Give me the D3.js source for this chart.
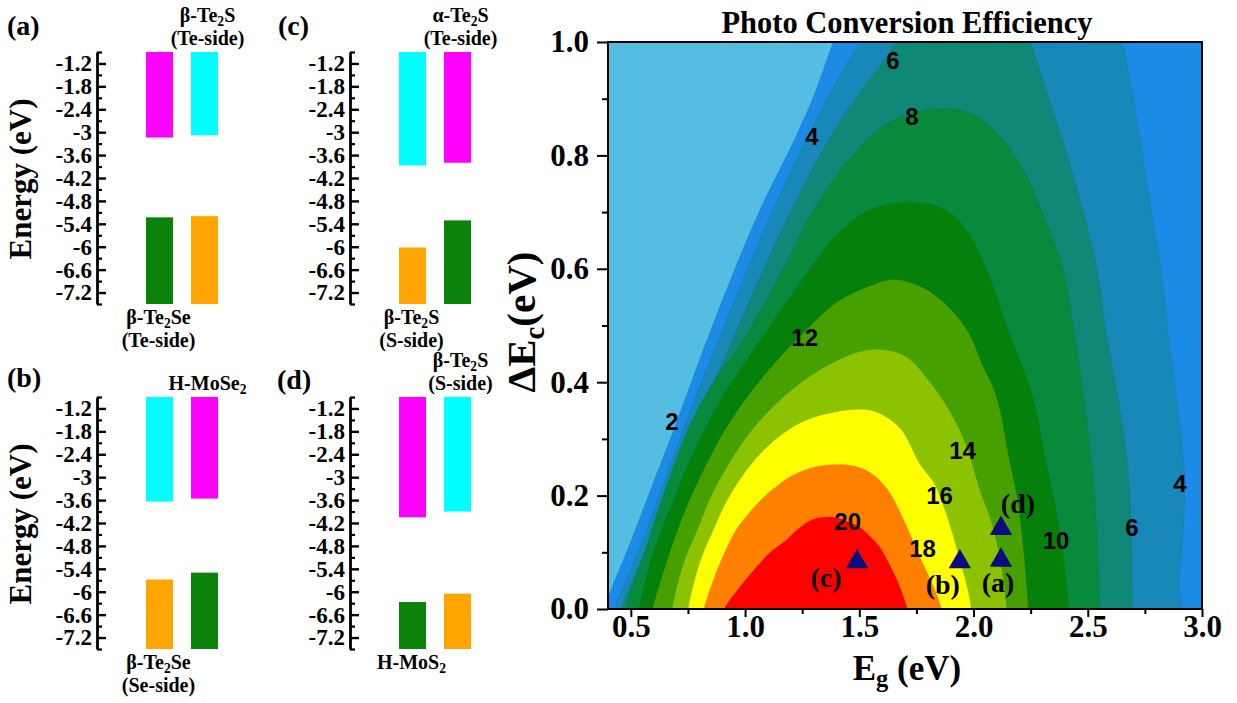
<!DOCTYPE html>
<html>
<head>
<meta charset="utf-8">
<script src="https://d3js.org/d3.v7.min.js"></script>
<style>
  body { margin: 0; background: #fff; }
  text { font-family: "Liberation Serif", "Times New Roman", serif; font-weight: bold; fill: #000; }
  .sans text, text.sans { font-family: "Liberation Sans", Arial, sans-serif; }
  .axis path, .axis line { stroke: #000; }
</style>
</head>
<body>
<svg id="fig" width="1237" height="703"></svg>
<script>
// ---------- band alignment panels ----------
const panelNames = ["(a)", "(b)", "(c)", "(d)"];
const cbmLeft  = [-3.14, -3.64, -3.87, -4.05];
const cbmRight = [-3.08, -3.56, -3.80, -3.90];
const vbmLeft  = [-5.23, -5.68, -6.02, -6.27];
const vbmRight = [-5.20, -5.50, -5.31, -6.05];
const cbColors = [["#ff00ff", "#00ffff"], ["#00ffff", "#ff00ff"], ["#00ffff", "#ff00ff"], ["#ff00ff", "#00ffff"]];
const vbColors = [["#0b830b", "#ffa500"], ["#ffa500", "#0b830b"], ["#ffa500", "#0b830b"], ["#0b830b", "#ffa500"]];
const topLabels = [["β-Te_2S", "(Te-side)"], ["H-MoSe_2"], ["α-Te_2S", "(Te-side)"], ["β-Te_2S", "(S-side)"]];
const bottomLabels = [["β-Te_2Se", "(Te-side)"], ["β-Te_2Se", "(Se-side)"], ["β-Te_2S", "(S-side)"], ["H-MoS_2"]];
const energyDomain = [-7.5, -0.9];
const energyTicks = [-1.2, -1.8, -2.4, -3, -3.6, -4.2, -4.8, -5.4, -6, -6.6, -7.2];
const energyMinor = [-0.9, -1.5, -2.1, -2.7, -3.3, -3.9, -4.5, -5.1, -5.7, -6.3, -6.9, -7.5];

// ---------- PCE contour map ----------
const egDomain = [0.4, 3.0];
const decDomain = [0, 1];
const egTicks = [0.5, 1.0, 1.5, 2.0, 2.5, 3.0];
const egMinor = [0.75, 1.25, 1.75, 2.25, 2.75];
const decTicks = [0, 0.2, 0.4, 0.6, 0.8, 1.0];
const decMinor = [0.1, 0.3, 0.5, 0.7, 0.9];
const levels = [2, 4, 6, 8, 10, 12, 14, 16, 18, 20];
const baseColor = "#54bde1";
const bandColors = ["#1c8be6", "#1888b8", "#108878", "#088a3c", "#05800a", "#45a000", "#8cc300", "#ffff00", "#ff8000", "#ff0000"];

// contour lines [Eg, dEc]
const c2Left = [[0.37,-0.02],[0.4,0.02],[0.5,0.12],[0.6,0.225],[0.7,0.33],[0.81,0.45],[0.93,0.575],[1.065,0.704],[1.218,0.83],[1.30,0.905],[1.385,1.0],[1.42,1.04]];
const c4Left = [[0.42,-0.02],[0.43,0],[0.55,0.12],[0.66,0.24],[0.76,0.35],[0.86,0.451],[0.99,0.58],[1.122,0.704],[1.27,0.83],[1.40,0.93],[1.503,1.0],[1.55,1.03]];
const c4Right = [[2.62,1.03],[2.65,1.0],[2.70,0.9],[2.74,0.8],[2.78,0.7],[2.82,0.6],[2.85,0.49],[2.88,0.4],[2.91,0.3],[2.925,0.22],[2.915,0.12],[2.90,0.05],[2.91,0],[2.912,-0.02]];
const c6Left = [[0.455,-0.02],[0.46,0],[0.58,0.12],[0.70,0.25],[0.81,0.35],[0.92,0.451],[1.06,0.58],[1.204,0.704],[1.37,0.83],[1.50,0.91],[1.62,0.975],[1.66,1.0],[1.70,1.03]];
const c6Right = [[2.23,1.03],[2.25,1.0],[2.33,0.9],[2.41,0.8],[2.48,0.7],[2.54,0.6],[2.58,0.49],[2.62,0.4],[2.66,0.3],[2.685,0.2],[2.69,0.14],[2.695,0],[2.695,-0.02]];
const c8 = [[0.47,-0.02],[0.476,0],[0.56,0.1],[0.64,0.198],[0.75,0.316],[0.86,0.40],[0.985,0.47],[1.168,0.6],[1.30,0.704],[1.45,0.79],[1.60,0.85],[1.75,0.877],[1.887,0.882],[2.0,0.872],[2.10,0.84],[2.21,0.78],[2.30,0.7],[2.39,0.6],[2.44,0.49],[2.49,0.35],[2.53,0.2],[2.555,0],[2.56,-0.02]];
const c10 = [[0.53,-0.02],[0.536,0],[0.585,0.08],[0.635,0.139],[0.694,0.198],[0.753,0.257],[0.823,0.316],[0.902,0.375],[1.0,0.434],[1.10,0.493],[1.286,0.6],[1.405,0.661],[1.55,0.705],[1.739,0.717],[1.87,0.705],[1.956,0.675],[2.055,0.6],[2.153,0.489],[2.258,0.375],[2.318,0.257],[2.377,0.139],[2.417,0],[2.42,-0.02]];
const c12 = [[0.59,-0.02],[0.595,0],[0.654,0.08],[0.704,0.139],[0.763,0.198],[0.833,0.257],[0.912,0.316],[1.01,0.375],[1.13,0.434],[1.25,0.485],[1.405,0.542],[1.56,0.572],[1.641,0.581],[1.72,0.576],[1.80,0.562],[1.897,0.53],[1.976,0.489],[2.04,0.43],[2.10,0.375],[2.16,0.257],[2.19,0.2],[2.22,0.1],[2.24,0],[2.242,-0.02]];
const c14 = [[0.675,-0.02],[0.68,0],[0.73,0.08],[0.79,0.139],[0.85,0.198],[0.93,0.257],[1.03,0.316],[1.17,0.375],[1.33,0.4225],[1.486,0.452],[1.585,0.458],[1.70,0.446],[1.80,0.405],[1.90,0.346],[1.97,0.287],[2.028,0.21],[2.08,0.152],[2.115,0.092],[2.135,0.04],[2.145,0],[2.147,-0.02]];
const c16 = [[0.745,-0.02],[0.75,0],[0.8,0.08],[0.86,0.139],[0.93,0.198],[1.03,0.257],[1.13,0.298],[1.25,0.33],[1.4,0.348],[1.526,0.352],[1.6,0.343],[1.684,0.316],[1.763,0.257],[1.83,0.22],[1.87,0.18],[1.91,0.13],[1.945,0.08],[1.975,0.034],[1.99,0],[1.992,-0.02]];
const c18 = [[0.815,-0.02],[0.82,0],[0.86,0.05],[0.9,0.09],[0.96,0.139],[1.03,0.175],[1.09,0.2],[1.2,0.234],[1.3,0.25],[1.4,0.255],[1.48,0.252],[1.55,0.24],[1.625,0.21],[1.70,0.152],[1.765,0.092],[1.83,0.034],[1.86,0],[1.865,-0.02]];
const c20 = [[0.905,-0.02],[0.91,0],[0.98,0.04],[1.05,0.074],[1.11,0.10],[1.17,0.118],[1.23,0.14],[1.29,0.157],[1.35,0.162],[1.41,0.16],[1.46,0.152],[1.50,0.145],[1.55,0.127],[1.59,0.109],[1.63,0.08],[1.665,0.051],[1.69,0.025],[1.71,0],[1.712,-0.02]];

// contour labels
const labelText = ["2", "4", "6", "8", "12", "14", "16", "18", "20", "10", "6", "4"];
const labelEg  = [0.680, 1.293, 1.647, 1.730, 1.261, 1.952, 1.851, 1.777, 1.449, 2.361, 2.693, 2.903];
const labelDec = [0.330, 0.833, 0.968, 0.868, 0.478, 0.279, 0.201, 0.106, 0.155, 0.120, 0.143, 0.222];

// heterostructure points
const markerNames = ["(a)", "(b)", "(c)", "(d)"];
const markerEg  = [2.12, 1.94, 1.49, 2.12];
const markerDec = [0.086, 0.083, 0.083, 0.142];

const svg = d3.select("#fig");
svg.append("rect").attr("width", 1237).attr("height", 703).attr("fill", "#fff");

// chemical formula helper: "Te_2S" -> subscript 2
function formula(sel, str) {
  const parts = str.split(/_(.)/);
  parts.forEach(function(p, i) {
    if (!p) return;
    if (i % 2 === 1) {
      sel.append("tspan").attr("font-size", "0.68em").attr("dy", "0.3em").text(p);
    } else {
      const t = sel.append("tspan").text(p);
      if (i > 0) t.attr("dy", "-0.2em");
    }
  });
}

// ---------- left panels ----------
const panelBox = [
  {ax: 97, top: 52, bottom: 304, lx: 7, ly: 35},
  {ax: 97, top: 397, bottom: 649, lx: 7, ly: 387},
  {ax: 350, top: 52, bottom: 304, lx: 278, ly: 35},
  {ax: 350, top: 397, bottom: 649, lx: 277, ly: 389}
];
const fmtE = d => String(+d.toFixed(1));

panelNames.forEach(function(name, i) {
  const b = panelBox[i];
  const ye = d3.scaleLinear().domain(energyDomain).range([b.bottom, b.top]);
  const xb = d3.scaleBand().domain([0, 1]).range([b.ax + 49, b.ax + 121]).paddingInner(0.4);
  const g = svg.append("g");

  // conduction band bars (from top of axis down to CBM)
  [cbmLeft[i], cbmRight[i]].forEach(function(v, k) {
    g.append("rect").attr("x", xb(k)).attr("width", xb.bandwidth())
      .attr("y", ye(energyDomain[1])).attr("height", ye(v) - ye(energyDomain[1]))
      .attr("fill", cbColors[i][k]);
  });
  // valence band bars (from VBM down to bottom of axis)
  [vbmLeft[i], vbmRight[i]].forEach(function(v, k) {
    g.append("rect").attr("x", xb(k)).attr("width", xb.bandwidth())
      .attr("y", ye(v)).attr("height", ye(energyDomain[0]) - ye(v))
      .attr("fill", vbColors[i][k]);
  });

  const ax = g.append("g").attr("class", "axis").attr("transform", "translate(" + b.ax + ",0)")
    .call(d3.axisLeft(ye).tickValues(energyTicks).tickSize(-9).tickSizeOuter(0).tickPadding(5).tickFormat(fmtE));
  ax.select(".domain").attr("stroke-width", 2.8);
  ax.selectAll(".tick line").attr("stroke-width", 2.4);
  ax.selectAll("text").attr("font-size", 23).attr("font-family", "Liberation Serif").attr("font-weight", "bold").attr("fill", "#000");
  const mn = g.append("g").attr("class", "axis").attr("transform", "translate(" + b.ax + ",0)")
    .call(d3.axisLeft(ye).tickValues(energyMinor).tickSize(-5).tickSizeOuter(0).tickFormat(""));
  mn.select(".domain").remove();
  mn.selectAll(".tick line").attr("stroke-width", 2.2);

  // panel tag
  g.append("text").attr("x", b.lx).attr("y", b.ly).attr("font-size", 28).text(name);

  // material labels
  const topX = xb(1) + xb.bandwidth() / 2 + 3;
  const tl = topLabels[i];
  tl.forEach(function(s, k) {
    const t = g.append("text").attr("x", topX).attr("y", b.top - 7 - (tl.length - 1 - k) * 23)
      .attr("text-anchor", "middle").attr("font-size", 20);
    formula(t, s);
  });
  const botX = xb(0) + xb.bandwidth() / 2 - 1;
  bottomLabels[i].forEach(function(s, k) {
    const t = g.append("text").attr("x", botX).attr("y", b.bottom + 20 + k * 23)
      .attr("text-anchor", "middle").attr("font-size", 20);
    formula(t, s);
  });

  // energy axis title for the left column
  if (b.ax < 200) {
    g.append("text").attr("transform", "translate(31," + ((b.top + b.bottom) / 2 + 1) + ") rotate(-90)")
      .attr("text-anchor", "middle").attr("font-size", 31).text("Energy (eV)");
  }
});

// ---------- contour map ----------
const x = d3.scaleLinear().domain(egDomain).range([608, 1202]);
const y = d3.scaleLinear().domain(decDomain).range([609, 42]);
const plot = svg.append("g");

plot.append("clipPath").attr("id", "clip").append("rect")
  .attr("x", x(egDomain[0])).attr("y", y(decDomain[1]))
  .attr("width", x(egDomain[1]) - x(egDomain[0])).attr("height", y(decDomain[0]) - y(decDomain[1]));

const body = plot.append("g").attr("clip-path", "url(#clip)");
body.append("rect").attr("x", x(egDomain[0])).attr("y", y(decDomain[1]))
  .attr("width", x(egDomain[1]) - x(egDomain[0])).attr("height", y(decDomain[0]) - y(decDomain[1]))
  .attr("fill", baseColor);

const line = d3.line().x(d => x(d[0])).y(d => y(d[1])).curve(d3.curveCatmullRom.alpha(0.5));
function joinBranches(branches) {
  return branches.map((br, k) => k === 0 ? line(br) : "L" + line(br).slice(1)).join("");
}
const pad = 0.1;
const corner = (a, b) => "L" + x(a) + "," + y(b);
const levelPaths = [
  line(c2Left) + corner(egDomain[1] + pad, decDomain[1] + pad) + corner(egDomain[1] + pad, decDomain[0] - pad) + corner(egDomain[0] - pad, decDomain[0] - pad) + "Z",
  joinBranches([c4Left, c4Right]) + "Z",
  joinBranches([c6Left, c6Right]) + "Z",
  line(c8) + "Z",
  line(c10) + "Z",
  line(c12) + "Z",
  line(c14) + "Z",
  line(c16) + "Z",
  line(c18) + "Z",
  line(c20) + "Z"
];
levels.forEach(function(lv, i) {
  body.append("path").attr("d", levelPaths[i]).attr("fill", bandColors[i])
    .attr("stroke", "rgba(0,0,0,0.1)").attr("stroke-width", 0.6);
});

// contour labels
body.selectAll(".clab").data(labelText).enter().append("text")
  .attr("class", "sans clab")
  .attr("x", (d, i) => x(labelEg[i])).attr("y", (d, i) => y(labelDec[i]))
  .attr("text-anchor", "middle").attr("dominant-baseline", "central")
  .attr("font-size", 24).text(d => d);

// markers
const markerOffsets = [[-3, 22], [-17, 23], [-31, 16], [17, -25]];
markerNames.forEach(function(name, i) {
  plot.append("path").attr("d", d3.symbol(d3.symbolTriangle, 215)())
    .attr("transform", "translate(" + x(markerEg[i]) + "," + y(markerDec[i]) + ")")
    .attr("fill", "#0c0c7e");
  plot.append("text").attr("x", x(markerEg[i]) + markerOffsets[i][0]).attr("y", y(markerDec[i]) + markerOffsets[i][1])
    .attr("text-anchor", "middle").attr("dominant-baseline", "central").attr("font-size", 28).text(name);
});

// frame
plot.append("rect").attr("x", x(egDomain[0])).attr("y", y(decDomain[1]))
  .attr("width", x(egDomain[1]) - x(egDomain[0])).attr("height", y(decDomain[0]) - y(decDomain[1]))
  .attr("fill", "none").attr("stroke", "#000").attr("stroke-width", 2);

// axes
function styleAxis(a, fs) {
  a.select(".domain").remove();
  a.selectAll(".tick line").attr("stroke-width", 2);
  a.selectAll("text").attr("font-family", "Liberation Sans").attr("font-weight", "bold").attr("font-size", fs).attr("fill", "#000");
}
const yAx = plot.append("g").attr("class", "axis").attr("transform", "translate(" + x(egDomain[0]) + ",0)")
  .call(d3.axisLeft(y).tickValues(decTicks).tickSize(11).tickPadding(8).tickFormat(d3.format(".1f")));
styleAxis(yAx, 31);
const yMin = plot.append("g").attr("class", "axis").attr("transform", "translate(" + x(egDomain[0]) + ",0)")
  .call(d3.axisLeft(y).tickValues(decMinor).tickSize(6).tickFormat(""));
styleAxis(yMin, 0);
const xAx = plot.append("g").attr("class", "axis").attr("transform", "translate(0," + y(decDomain[0]) + ")")
  .call(d3.axisBottom(x).tickValues(egTicks).tickSize(8).tickPadding(-2).tickFormat(d3.format(".1f")));
styleAxis(xAx, 31);
const xMin = plot.append("g").attr("class", "axis").attr("transform", "translate(0," + y(decDomain[0]) + ")")
  .call(d3.axisBottom(x).tickValues(egMinor).tickSize(5).tickFormat(""));
styleAxis(xMin, 0);

// titles
plot.append("text").attr("x", 907).attr("y", 33).attr("text-anchor", "middle").attr("font-size", 30.5)
  .text("Photo Conversion Efficiency");

const xt = plot.append("text").attr("x", 907).attr("y", 680).attr("text-anchor", "middle").attr("font-size", 35);
xt.append("tspan").text("E");
xt.append("tspan").attr("font-size", "0.7em").attr("dy", "0.3em").text("g");
xt.append("tspan").attr("dy", "-0.21em").text(" (eV)");

const yt = plot.append("text").attr("transform", "translate(535,322) rotate(-90)").attr("text-anchor", "middle").attr("font-size", 41);
yt.append("tspan").text("ΔE");
yt.append("tspan").attr("font-size", "0.7em").attr("dy", "0.3em").text("c");
yt.append("tspan").attr("dy", "-0.21em").text("(eV)");
</script>
</body>
</html>
